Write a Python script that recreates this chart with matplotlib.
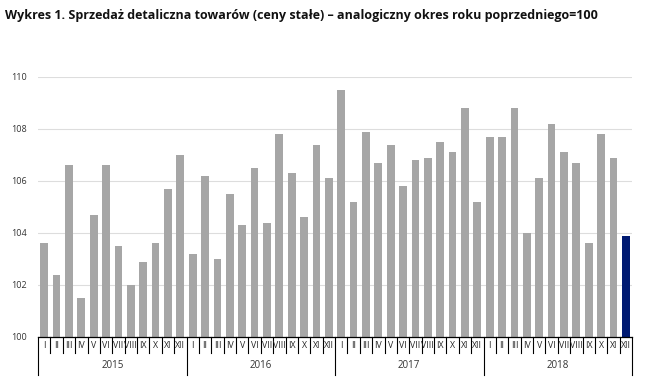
import matplotlib
matplotlib.use("Agg")
import matplotlib.pyplot as plt
import matplotlib.transforms as mtransforms

years = ["2015", "2016", "2017", "2018"]
months = ["I", "II", "III", "IV", "V", "VI", "VII", "VIII", "IX", "X", "XI", "XII"]
v2015 = [103.6, 102.4, 106.6, 101.5, 104.7, 106.6, 103.5, 102.0, 102.9, 103.6, 105.7, 107.0]
v2016 = [103.2, 106.2, 103.0, 105.5, 104.3, 106.5, 104.4, 107.8, 106.3, 104.6, 107.4, 106.1]
v2017 = [109.5, 105.2, 107.9, 106.7, 107.4, 105.8, 106.8, 106.9, 107.5, 107.1, 108.8, 105.2]
v2018 = [107.7, 107.7, 108.8, 104.0, 106.1, 108.2, 107.1, 106.7, 103.6, 107.8, 106.9, 103.9]
yticks = [100, 102, 104, 106, 108, 110]

values = v2015 + v2016 + v2017 + v2018
n = len(values)
colors = ["#a6a6a6"] * (n - 1) + ["#001a72"]

plt.rcParams['font.family'] = ['Open Sans', 'DejaVu Sans']

fig = plt.figure(figsize=(6.45, 3.8), dpi=100)
ax = fig.add_axes([38/645, 1 - 337/380, (632-38)/645, (337-77)/380])

x = list(range(n))
ax.bar(x, [v - 100 for v in values], bottom=100, width=0.62, color=colors, zorder=3)
ax.set_ylim(100, 110)
ax.set_xlim(-0.5, n - 0.5)
ax.set_yticks(yticks)
ax.set_yticklabels([str(t) for t in yticks], fontsize=6.5, color="#333333")
ax.tick_params(axis='y', length=0, pad=8)
ax.grid(axis='y', color="#dddddd", linewidth=0.8, zorder=0)
for s in ["top", "right", "left"]:
    ax.spines[s].set_visible(False)
ax.spines["bottom"].set_color("black")
ax.spines["bottom"].set_linewidth(0.9)
ax.spines["bottom"].set_zorder(4)

ax.set_xticks([])
trans = mtransforms.blended_transform_factory(ax.transData, ax.transAxes)
px = 1 / (337 - 77)  # axes fraction per pixel
for k in range(n + 1):
    depth = 38 if k % 12 == 0 else 16
    ax.plot([k - 0.5, k - 0.5], [0, -depth * px], transform=trans, color="black",
            lw=0.8, clip_on=False)
for k in range(n):
    ax.text(k, -9 * px, months[k % 12], transform=trans, ha="center", va="center",
            fontsize=6.3, color="#222222")
for i, yr in enumerate(years):
    ax.text(i * 12 + 5.5, -28 * px, yr, transform=trans, ha="center", va="center",
            fontsize=7, color="#333333")

fig.text(5/645, 1 - 15/380, "Wykres 1. Sprzedaż detaliczna towarów (ceny stałe) – analogiczny okres roku poprzedniego=100",
         fontsize=9, fontweight="bold", ha="left", va="center", color="#111111")

fig.savefig("out.png", dpi=100)
